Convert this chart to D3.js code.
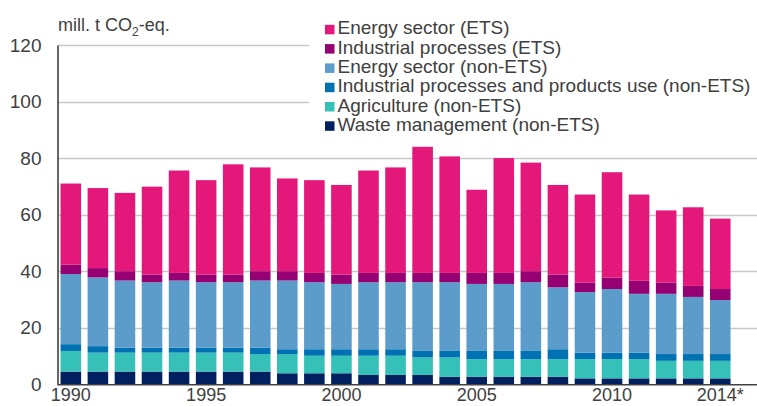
<!DOCTYPE html>
<meta charset="utf-8">
<style>
body { margin: 0; background: #fff; }
svg { display: block; font-family: "Liberation Sans", Arial, sans-serif; }
.grid line { stroke: #c8c8c8; stroke-width: 1.3; }
.axis text { fill: #404040; font-size: 19px; }
.x.axis text { font-size: 18px; }
.legend text { fill: #404040; font-size: 19px; }
</style>
<body>
<script src="https://cdn.jsdelivr.net/npm/d3@7"></script>
<script>
// years on the x axis
var years = d3.range(1990, 2015);
var yearLabels = {1990: "1990", 1995: "1995", 2000: "2000", 2005: "2005", 2010: "2010", 2014: "2014*"};

// series, mill. t CO2-eq. (bottom to top)
var wasteMgmt   = [4.5,4.5,4.5,4.5,4.5,4.5,4.5,4.5,3.9,3.9,3.9,3.3,3.3,3.3,2.7,2.7,2.7,2.7,2.7,2.1,2.1,2.1,2.1,2.1,2.1];
var agriculture = [7.3,6.7,6.7,6.7,6.7,6.7,6.7,6.2,6.8,6.2,6.2,6.8,6.8,6.2,6.8,6.2,6.2,6.2,6.2,6.8,6.8,6.8,6.2,6.2,6.2];
var indNonEts   = [2.4,2.3,1.8,1.8,1.8,1.8,1.8,2.3,1.7,2.3,2.3,2.3,2.3,2.3,2.3,2.9,2.9,2.9,3.5,2.3,2.3,2.3,2.4,2.4,2.4];
var energyNonEts= [24.8,24.3,23.7,23.1,23.7,23.1,23.1,23.7,24.3,23.7,23.1,23.7,23.7,24.3,24.3,23.7,23.7,24.3,21.9,21.4,22.5,20.8,21.3,20.2,19.1];
var indEts      = [3.3,3.3,3.3,2.7,2.7,2.7,2.7,3.3,3.3,3.3,3.3,3.3,3.3,3.3,3.3,3.9,3.9,3.9,4.5,3.4,4.0,4.6,4.0,3.9,3.9];
var energyEts   = [28.7,28.3,27.7,31.1,36.2,33.4,39.0,36.7,32.8,32.8,31.7,36.2,37.3,44.6,41.2,29.4,40.6,38.4,31.7,31.1,37.3,30.5,25.5,27.8,24.9];

var seriesNames = ["Waste management (non-ETS)", "Agriculture (non-ETS)",
  "Industrial processes and products use (non-ETS)", "Energy sector (non-ETS)",
  "Industrial processes (ETS)", "Energy sector (ETS)"];
var seriesKeys = ["waste", "agri", "indNon", "enNon", "indEts", "enEts"];
var colors = ["#002060", "#35c1b8", "#0072b3", "#5b9ccb", "#950073", "#e4177a"];
var yTicks = [0, 20, 40, 60, 80, 100, 120];

var width = 757, height = 406;

var rows = years.map(function(y, i) {
  return {year: y, waste: wasteMgmt[i], agri: agriculture[i], indNon: indNonEts[i],
          enNon: energyNonEts[i], indEts: indEts[i], enEts: energyEts[i]};
});

var x = d3.scaleBand()
    .domain(years)
    .range([57.3, 733.8])
    .paddingInner(0.24)
    .paddingOuter(0.12);
var y = d3.scaleLinear()
    .domain([0, 120])
    .range([384.3, 45]);
var color = d3.scaleOrdinal().domain(seriesKeys).range(colors);

var svg = d3.select("body").append("svg")
    .attr("width", width)
    .attr("height", height);

// gridlines
svg.append("g").attr("class", "grid")
  .selectAll("line")
  .data(yTicks.filter(function(d) { return d > 0; }))
  .enter().append("line")
    .attr("x1", 58).attr("x2", width)
    .attr("y1", function(d) { return Math.round(y(d)) + 0.5; })
    .attr("y2", function(d) { return Math.round(y(d)) + 0.5; });

// stacked bars
var stacked = d3.stack().keys(seriesKeys)(rows);
svg.append("g")
  .selectAll("g")
  .data(stacked)
  .enter().append("g")
    .attr("fill", function(d) { return color(d.key); })
  .selectAll("rect")
  .data(function(d) { return d; })
  .enter().append("rect")
    .attr("x", function(d) { return x(d.data.year); })
    .attr("width", x.bandwidth())
    .attr("y", function(d) { return y(d[1]); })
    .attr("height", function(d) { return y(d[0]) - y(d[1]); });

// y axis
var yAxis = svg.append("g")
    .attr("class", "axis")
    .attr("transform", "translate(57.5,0)")
    .call(d3.axisLeft(y).tickValues(yTicks).tickSize(0).tickPadding(16));
yAxis.select(".domain").attr("stroke", "#404040").attr("stroke-width", 1.6);

// x axis
var xAxis = svg.append("g")
    .attr("class", "x axis")
    .attr("transform", "translate(0," + y(0) + ")")
    .call(d3.axisBottom(x)
      .tickValues(Object.keys(yearLabels).map(Number))
      .tickFormat(function(d) { return yearLabels[d]; })
      .tickSize(0));
xAxis.select(".domain").attr("d", "M57.5,0.5H" + width).attr("stroke", "#404040").attr("stroke-width", 1.6);
xAxis.selectAll("text").attr("dy", "0.71em").attr("y", 4);

// unit title
var title = svg.append("text")
    .attr("x", 58).attr("y", 31)
    .attr("fill", "#404040")
    .style("font-size", "18px");
title.append("tspan").text("mill. t CO");
title.append("tspan").attr("dy", 5).style("font-size", "12px").text("2");
title.append("tspan").attr("dy", -5).text("-eq.");

// legend
var legend = svg.append("g").attr("class", "legend");
legend.append("rect")
    .attr("x", 309).attr("y", 14).attr("width", width - 309).attr("height", 124)
    .attr("fill", "#fff");
var legendOrder = seriesKeys.slice().reverse();
var item = legend.selectAll("g.item")
    .data(legendOrder)
  .enter().append("g")
    .attr("class", "item")
    .attr("transform", function(d, i) { return "translate(325," + (34.3 + i * 19.3) + ")"; });
item.append("rect")
    .attr("x", 0).attr("y", -9.5).attr("width", 9.5).attr("height", 9.5)
    .attr("fill", function(d) { return color(d); });
item.append("text")
    .attr("x", 12.5).attr("y", 0)
    .text(function(d) { return seriesNames[seriesKeys.indexOf(d)]; });
</script>
</body>
